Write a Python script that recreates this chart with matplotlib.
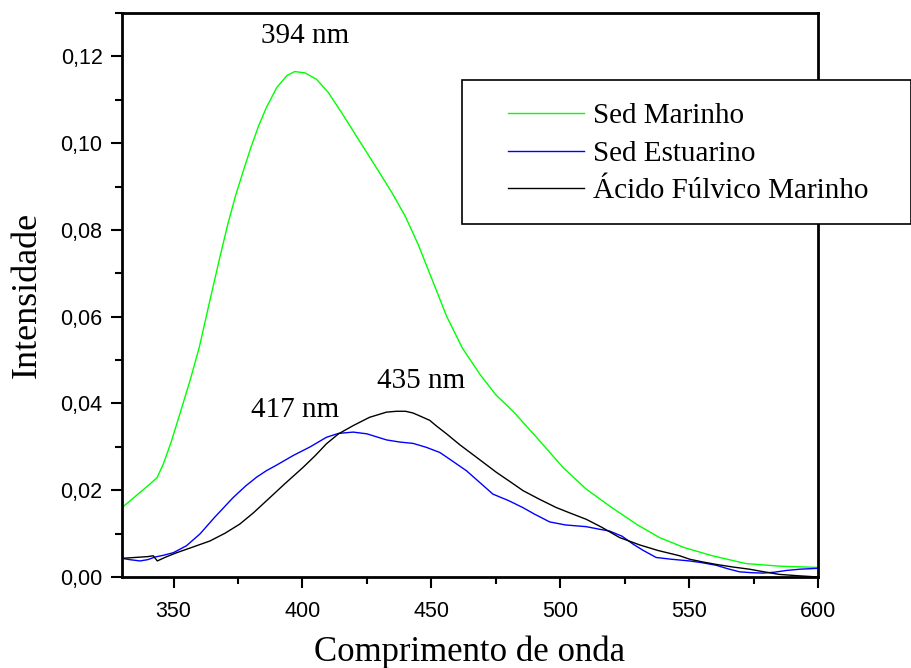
import matplotlib
matplotlib.use("Agg")
import matplotlib.pyplot as plt
from matplotlib.ticker import MultipleLocator, FuncFormatter
from matplotlib.patches import Rectangle

# comprimento de onda (nm) e intensidade
x_marinho = [330, 336, 340, 343.6, 346, 349, 352.5, 356.4, 360, 364, 368, 371, 374, 377,
             380, 383, 386, 390, 394, 397, 401, 405.5, 410, 415, 420, 425, 430, 435, 440,
             445, 450, 456, 462, 469, 475, 482, 492, 501, 510, 520, 530, 538.5, 548, 559,
             572, 585, 600]
y_marinho = [0.0160, 0.0190, 0.0210, 0.0229, 0.0260, 0.0310, 0.0377, 0.0453, 0.0530,
             0.0635, 0.0738, 0.0812, 0.0878, 0.0935, 0.0990, 0.1040, 0.1082, 0.1128,
             0.1156, 0.1165, 0.1162, 0.1147, 0.1117, 0.1072, 0.1025, 0.0978, 0.0931,
             0.0883, 0.0830, 0.0765, 0.0690, 0.0600, 0.0528, 0.0466, 0.0420, 0.0380,
             0.0314, 0.0253, 0.0203, 0.0160, 0.0120, 0.0091, 0.0068, 0.0049, 0.0031,
             0.0025, 0.0022]

x_estuarino = [330, 333, 337, 340, 342.8, 346, 349.9, 355, 360.2, 366, 373.1, 378, 382.2,
               386, 390, 396.4, 403, 409.3, 414, 419.7, 425, 432.6, 437.8, 442.9, 448,
               453.3, 458, 463.6, 468, 473.9, 480, 485.5, 490, 495.9, 502, 510.1, 515.3,
               519.1, 524, 528.2, 532, 537.2, 543, 550.2, 555, 560.5, 565, 569.5, 574,
               578.6, 583, 587.6, 593, 600]
y_estuarino = [0.0043, 0.0040, 0.0037, 0.0040, 0.0046, 0.0050, 0.0056, 0.0072, 0.0099,
               0.0138, 0.0183, 0.0210, 0.0230, 0.0245, 0.0258, 0.0280, 0.0300, 0.0322,
               0.0331, 0.0334, 0.0330, 0.0316, 0.0311, 0.0308, 0.0299, 0.0287, 0.0268,
               0.0245, 0.0222, 0.0191, 0.0176, 0.0160, 0.0145, 0.0127, 0.0120, 0.0116,
               0.0110, 0.0106, 0.0094, 0.0076, 0.0062, 0.0045, 0.0041, 0.0037, 0.0033,
               0.0027, 0.0019, 0.0012, 0.0010, 0.0009, 0.0011, 0.0015, 0.0018, 0.0020]

x_fulvico = [330, 335, 340, 342.1, 343.7, 347, 351.2, 357, 364.1, 370, 375.7, 381, 386.1,
             393, 400.3, 405, 409.3, 414, 419.7, 426, 432.6, 436.5, 440, 442.9, 446,
             449.4, 452, 455.9, 461, 467.5, 475.3, 480, 485.6, 492, 498.5, 504, 510.1,
             516, 523, 530.8, 538, 546.3, 550.2, 555, 560.5, 567, 573.4, 579, 585, 592, 600]
y_fulvico = [0.0043, 0.0045, 0.0047, 0.0049, 0.0037, 0.0046, 0.0056, 0.0068, 0.0083,
             0.0101, 0.0122, 0.0148, 0.0176, 0.0214, 0.0253, 0.0280, 0.0307, 0.0330,
             0.0349, 0.0368, 0.0380, 0.0382, 0.0382, 0.0378, 0.0370, 0.0361, 0.0348,
             0.0330, 0.0305, 0.0276, 0.0241, 0.0222, 0.0199, 0.0179, 0.0160, 0.0147,
             0.0133, 0.0115, 0.0091, 0.0074, 0.0061, 0.0049, 0.0041, 0.0035, 0.0029,
             0.0023, 0.0018, 0.0012, 0.0006, 0.0003, 0.0000]

series_labels = ["Sed Marinho", "Sed Estuarino", "Ácido Fúlvico Marinho"]
series_colors = ["#00ff00", "#0000ff", "#000000"]

picos = ["394 nm", "417 nm", "435 nm"]
picos_x = [401.1, 397.2, 445.9]
picos_y = [0.1232, 0.0368, 0.0435]

serif = ["Liberation Serif", "DejaVu Serif"]
sans = ["Liberation Sans", "DejaVu Sans"]

fig = plt.figure(figsize=(9.12, 6.68), dpi=100)
ax = fig.add_axes([122 / 912, 1 - 577 / 668, (818 - 122) / 912, (577 - 13) / 668])

lines = []
for xs, ys, lab, col in zip([x_marinho, x_estuarino, x_fulvico],
                            [y_marinho, y_estuarino, y_fulvico],
                            series_labels, series_colors):
    ln, = ax.plot(xs, ys, color=col, lw=1.0, label=lab)
    lines.append(ln)

ax.set_xlim(330, 600)
ax.set_ylim(0, 0.13)
ax.xaxis.set_major_locator(MultipleLocator(50))
ax.xaxis.set_minor_locator(MultipleLocator(25))
ax.yaxis.set_major_locator(MultipleLocator(0.02))
ax.yaxis.set_minor_locator(MultipleLocator(0.01))
ax.yaxis.set_major_formatter(FuncFormatter(lambda v, p: ("%.2f" % v).replace(".", ",")))
ax.tick_params(which="major", direction="out", length=8, width=1.5, labelsize=15.5)
ax.tick_params(axis="x", which="major", pad=9)
ax.tick_params(axis="y", which="major", pad=6)
ax.tick_params(which="minor", direction="out", length=5, width=1.5)
for lbl in ax.get_xticklabels() + ax.get_yticklabels():
    lbl.set_family(sans)
for s in ax.spines.values():
    s.set_linewidth(2)

ax.set_xlabel("Comprimento de onda", family=serif, fontsize=25, labelpad=10)
ax.set_ylabel("Intensidade", family=serif, fontsize=26, labelpad=12)

for txt, px, py in zip(picos, picos_x, picos_y):
    ax.text(px, py, txt, family=serif, fontsize=21, ha="center", va="baseline")

# caixa da legenda, sai para fora do eixo como no original
fig.patches.append(Rectangle((462 / 912, 1 - 224 / 668), (911 - 462) / 912, 144 / 668,
                             transform=fig.transFigure, facecolor="white",
                             edgecolor="black", lw=1.2, zorder=5))
leg = fig.legend(handles=lines, loc="upper left", frameon=False,
                 bbox_to_anchor=(508 / 912, 1 - 103 / 668), borderpad=0, borderaxespad=0,
                 handlelength=2.6, handletextpad=0.3, labelspacing=0.38,
                 prop={"family": serif, "size": 21})
leg.set_zorder(6)

fig.savefig("out.png", dpi=100)
